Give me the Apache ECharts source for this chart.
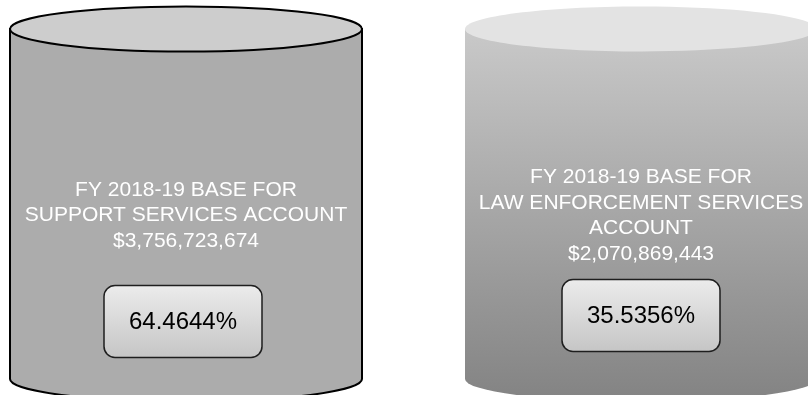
<!DOCTYPE html>
<html>
<head>
<meta charset="utf-8">
<script src="https://cdn.jsdelivr.net/npm/echarts@6/dist/echarts.min.js"></script>
<style>
html,body{margin:0;padding:0;background:#fff;}
#chart{width:808px;height:395px;}
</style>
</head>
<body>
<div id="chart"></div>
<script>
// ---- data ----
const categories = [
  'FY 2018-19 BASE FOR\nSUPPORT SERVICES ACCOUNT',
  'FY 2018-19 BASE FOR\nLAW ENFORCEMENT SERVICES\nACCOUNT'
];
const amounts = [3756723674, 2070869443];
const shares = [64.4644, 35.5356];

function money(v) {
  return '$' + v.toString().replace(/\B(?=(\d{3})+(?!\d))/g, ',');
}

const chart = echarts.init(document.getElementById('chart'), null, {renderer: 'canvas'});

const FONT = '"Liberation Sans", Arial, sans-serif';
// horizontal axis: index 0 centred at 186px, index 1 at 641px of an 808px grid
const W = 808, C0 = 186, C1 = 641;
const xMin = -C0 / (C1 - C0);
const xMax = xMin + W / (C1 - C0);

function renderItem(params, api) {
  const idx = api.value(0);
  const cx = api.coord([idx, 0])[0];
  const rx = 176, ry = 22.5, topY = 29, botY = 379;
  const styled = idx === 0;
  const children = [];
  const bodyPath = 'M' + (cx - rx) + ' ' + topY +
    ' L' + (cx - rx) + ' ' + botY +
    ' A' + rx + ' ' + ry + ' 0 0 0 ' + (cx + rx) + ' ' + botY +
    ' L' + (cx + rx) + ' ' + topY + ' Z';
  children.push({
    type: 'path',
    shape: {pathData: bodyPath},
    style: styled
      ? {fill: '#acacac', stroke: '#000', lineWidth: 2}
      : {fill: new echarts.graphic.LinearGradient(0, 0, 0, 1, [
          {offset: 0, color: '#c9c9c9'},
          {offset: 1, color: '#838383'}
        ]), stroke: null}
  });
  children.push({
    type: 'ellipse',
    shape: {cx: cx, cy: topY, rx: rx, ry: ry},
    style: styled
      ? {fill: '#cdcdcd', stroke: '#000', lineWidth: 2}
      : {fill: '#e3e3e3', stroke: null}
  });
  const label = categories[idx] + '\n' + money(api.value(1));
  children.push({
    type: 'text',
    style: {
      text: label, x: cx, y: 215.5,
      fill: '#ffffff', fontSize: 21, fontFamily: FONT,
      align: 'center', verticalAlign: 'middle', lineHeight: 25.5
    }
  });
  const bw = 158, bh = 72;
  const bcx = styled ? cx - 3 : cx;
  const bcy = styled ? 321.5 : 315.5;
  children.push({
    type: 'rect',
    shape: {x: bcx - bw / 2, y: bcy - bh / 2, width: bw, height: bh, r: 11},
    style: {
      fill: new echarts.graphic.LinearGradient(0, 0, 0, 1, [
        {offset: 0, color: '#ececec'},
        {offset: 1, color: '#c5c5c5'}
      ]),
      stroke: '#1e1e1e', lineWidth: 1.5
    }
  });
  children.push({
    type: 'text',
    style: {
      text: api.value(2).toFixed(4) + '%', x: bcx, y: bcy + 1,
      fill: '#000', fontSize: 24, fontFamily: FONT,
      align: 'center', verticalAlign: 'middle'
    }
  });
  return {type: 'group', children: children};
}

chart.setOption({
  animation: false,
  grid: {left: 0, right: 0, top: 0, bottom: 0},
  xAxis: {type: 'value', show: false, min: xMin, max: xMax},
  yAxis: {type: 'value', show: false, min: 0, max: 4000000000},
  series: [{
    type: 'custom',
    renderItem: renderItem,
    clip: false,
    encode: {x: 0, y: 1},
    data: categories.map((c, i) => [i, amounts[i], shares[i]])
  }]
});
</script>
</body>
</html>
